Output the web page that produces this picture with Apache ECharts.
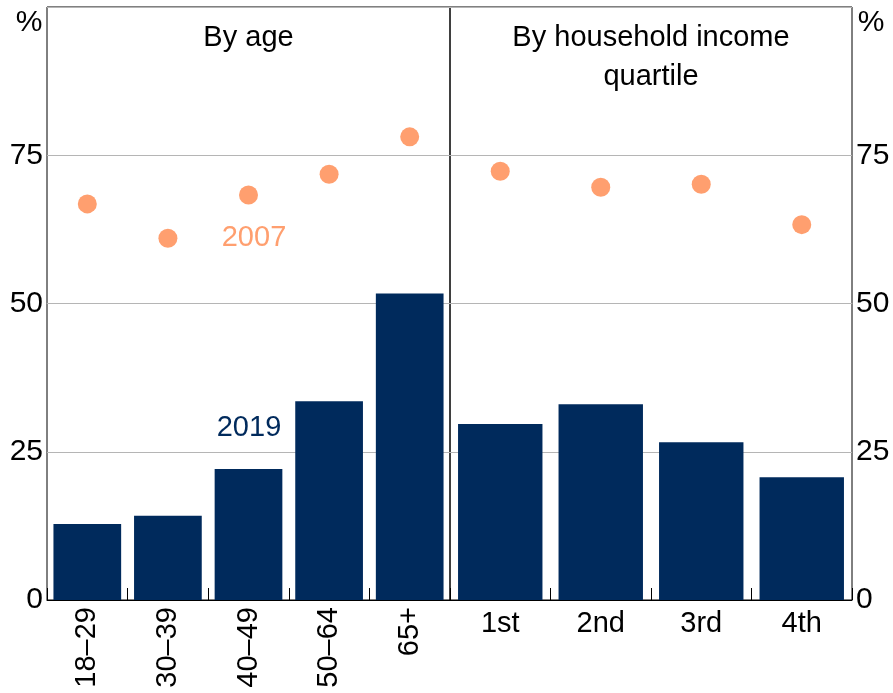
<!DOCTYPE html>
<html>
<head>
<meta charset="utf-8">
<script src="https://cdn.jsdelivr.net/npm/echarts@6/dist/echarts.min.js"></script>
<style>
html,body{margin:0;padding:0;background:#fff;}
#chart{width:893px;height:693px;}
</style>
</head>
<body>
<div id="chart"></div>
<script>
// Data
var ageCats = ['18–29', '30–39', '40–49', '50–64', '65+'];
var age2019 = [12.8, 14.2, 22.1, 33.5, 51.7];
var age2007 = [66.8, 61.0, 68.3, 71.8, 78.1];
var incCats = ['1st', '2nd', '3rd', '4th'];
var inc2019 = [29.7, 33.0, 26.6, 20.7];
var inc2007 = [72.3, 69.6, 70.1, 63.3];
var yTicks = [0, 25, 50, 75, 100];

var FONT = 'Liberation Sans, Arial, sans-serif';
var FS = 29;
var NAVY = '#002a5c';
var ORANGE = '#ff9f6f';

var chart = echarts.init(document.getElementById('chart'));

function yAxis(gridIndex, position) {
  return {
    type: 'value', gridIndex: gridIndex, position: position,
    min: yTicks[0], max: yTicks[yTicks.length - 1], interval: 25,
    axisLine: {show: false}, axisTick: {show: false},
    axisLabel: {
      color: '#000', fontSize: 30, fontFamily: FONT, margin: 4,
      formatter: function (v) { return v === 100 ? '' : String(v); }
    },
    splitLine: {show: true, lineStyle: {color: '#b5b5b5', width: 1}}
  };
}
function xAxis(gridIndex, cats, rotate, margin) {
  return {
    type: 'category', gridIndex: gridIndex, data: cats,
    axisLine: {show: true, lineStyle: {color: '#000', width: 1}},
    axisTick: {show: true, inside: true, length: 12, lineStyle: {color: '#000'}},
    axisLabel: {color: '#000', fontSize: FS, fontFamily: FONT, rotate: rotate, margin: margin, interval: 0},
    splitLine: {show: false}
  };
}

chart.setOption({
  animation: false,
  backgroundColor: '#fff',
  grid: [
    {left: 47, top: 7, width: 403, height: 593, show: true, borderColor: '#000', borderWidth: 1, backgroundColor: 'transparent'},
    {left: 450, top: 7, width: 402, height: 593, show: true, borderColor: '#000', borderWidth: 1, backgroundColor: 'transparent'}
  ],
  xAxis: [xAxis(0, ageCats, 90, 7), xAxis(1, incCats, 0, 9)],
  yAxis: [yAxis(0, 'left'), yAxis(1, 'right')],
  series: [
    {type: 'bar', xAxisIndex: 0, yAxisIndex: 0, data: age2019, barCategoryGap: '16%', itemStyle: {color: NAVY}},
    {type: 'scatter', xAxisIndex: 0, yAxisIndex: 0, data: age2007, symbolSize: 19, itemStyle: {color: ORANGE, opacity: 1}, z: 5},
    {type: 'bar', xAxisIndex: 1, yAxisIndex: 1, data: inc2019, barCategoryGap: '16%', itemStyle: {color: NAVY}},
    {type: 'scatter', xAxisIndex: 1, yAxisIndex: 1, data: inc2007, symbolSize: 19, itemStyle: {color: ORANGE, opacity: 1}, z: 5}
  ],
  graphic: [
    {type: 'text', x: 29, y: 23, style: {text: '%', fill: '#000', font: '30px ' + FONT, textAlign: 'center', textVerticalAlign: 'middle'}},
    {type: 'text', x: 871, y: 23, style: {text: '%', fill: '#000', font: '30px ' + FONT, textAlign: 'center', textVerticalAlign: 'middle'}},
    {type: 'text', x: 248.5, y: 38, style: {text: 'By age', fill: '#000', font: FS + 'px ' + FONT, textAlign: 'center', textVerticalAlign: 'middle'}},
    {type: 'text', x: 651, y: 38, style: {text: 'By household income', fill: '#000', font: FS + 'px ' + FONT, textAlign: 'center', textVerticalAlign: 'middle'}},
    {type: 'text', x: 651, y: 77, style: {text: 'quartile', fill: '#000', font: FS + 'px ' + FONT, textAlign: 'center', textVerticalAlign: 'middle'}},
    {type: 'text', x: 254, y: 238, style: {text: '2007', fill: ORANGE, font: FS + 'px ' + FONT, textAlign: 'center', textVerticalAlign: 'middle'}},
    {type: 'text', x: 249, y: 428, style: {text: '2019', fill: NAVY, font: FS + 'px ' + FONT, textAlign: 'center', textVerticalAlign: 'middle'}}
  ]
});
</script>
</body>
</html>
